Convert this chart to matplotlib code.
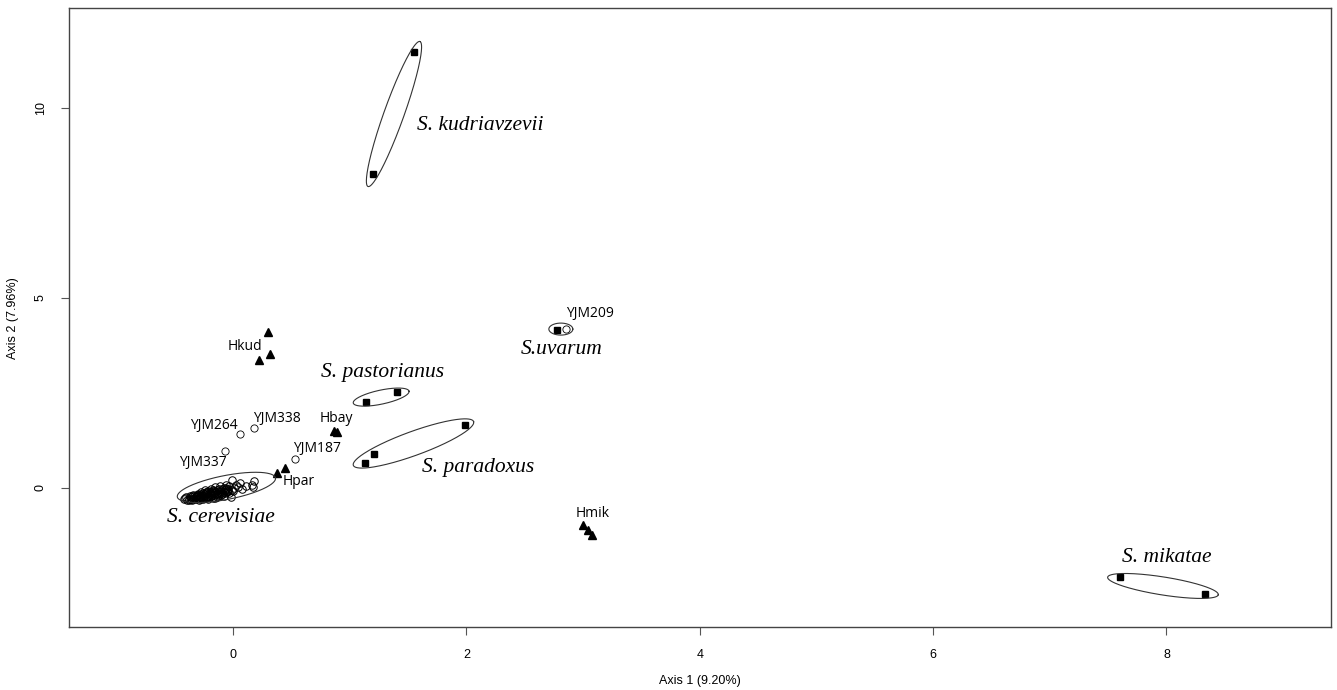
import numpy as np
import matplotlib
matplotlib.use('Agg')
import matplotlib.pyplot as plt

# --- data ---
# S. cerevisiae strains (open circles)
cer_x = [-0.42, -0.40, -0.39, -0.37, -0.36, -0.35, -0.34, -0.33, -0.32, -0.31, -0.30, -0.30,
         -0.29, -0.28, -0.27, -0.27, -0.26, -0.25, -0.25, -0.24, -0.23, -0.23, -0.22, -0.21,
         -0.21, -0.20, -0.19, -0.19, -0.18, -0.17, -0.17, -0.16, -0.15, -0.15, -0.14, -0.13,
         -0.12, -0.12, -0.11, -0.10, -0.09, -0.08, -0.08, -0.07, -0.06, -0.05, -0.04, -0.03,
         -0.02, -0.01, 0.00, 0.01, 0.03, 0.06, 0.08, 0.11, 0.16, 0.18, 0.17, -0.36, -0.33,
         -0.28, -0.26, -0.22, -0.20, -0.18, -0.14, -0.11, -0.06, -0.03,
         -0.41, -0.38, -0.35, -0.32, -0.30, -0.28, -0.26, -0.24, -0.22, -0.20, -0.18, -0.16,
         -0.14, -0.12, -0.10, -0.08, -0.06, -0.04, -0.34, -0.31, -0.29, -0.25, -0.23, -0.19,
         -0.16, -0.13, -0.09, -0.05, -0.38, -0.27, -0.21, -0.15, -0.10, -0.07, -0.01, 0.04]
cer_y = [-0.30, -0.25, -0.31, -0.22, -0.28, -0.33, -0.19, -0.26, -0.30, -0.22, -0.15, -0.27,
         -0.32, -0.20, -0.24, -0.11, -0.29, -0.17, -0.22, -0.06, -0.27, -0.14, -0.20, -0.09,
         -0.25, -0.16, -0.02, -0.21, -0.12, -0.27, -0.05, -0.18, -0.10, 0.02, -0.23, -0.13,
         -0.04, -0.19, 0.05, -0.09, -0.15, 0.00, -0.22, -0.06, 0.08, -0.12, -0.02, 0.04,
         -0.25, 0.21, -0.08, 0.00, 0.08, 0.12, -0.03, 0.05, 0.08, 0.17, 0.02, -0.24, -0.20,
         -0.28, -0.14, -0.12, -0.24, -0.08, -0.06, -0.11, -0.04, -0.14,
         -0.27, -0.29, -0.21, -0.24, -0.19, -0.25, -0.21, -0.16, -0.24, -0.12, -0.19, -0.14,
         -0.17, -0.09, -0.13, -0.11, -0.01, -0.08, -0.30, -0.18, -0.23, -0.27, -0.10, -0.15,
         -0.07, -0.20, -0.04, -0.09, -0.33, -0.17, -0.29, -0.26, -0.18, -0.14, -0.05, 0.02]

# labelled strains (open circles)
strain_names = ['YJM264', 'YJM338', 'YJM337', 'YJM187', 'YJM209']
strain_x = [0.06, 0.18, -0.07, 0.53, 2.85]
strain_y = [1.42, 1.57, 0.96, 0.75, 4.18]
strain_lab_x = [-0.16, 0.38, -0.26, 0.72, 3.06]
strain_lab_y = [1.63, 1.84, 0.66, 1.03, 4.58]

# hybrids (filled triangles)
hyb_x = [0.30, 0.32, 0.22, 0.38, 0.45, 0.87, 0.89, 3.00, 3.04, 3.08]
hyb_y = [4.10, 3.53, 3.37, 0.40, 0.52, 1.50, 1.47, -0.97, -1.10, -1.24]
hyb_names = ['Hkud', 'Hpar', 'Hbay', 'Hmik']
hyb_lab_x = [0.10, 0.56, 0.89, 3.08]
hyb_lab_y = [3.71, 0.18, 1.84, -0.68]

# type strains of other species (filled squares)
sq_x = [1.55, 1.20, 1.14, 1.41, 1.13, 1.21, 1.99, 2.78, 7.60, 8.33]
sq_y = [11.47, 8.26, 2.26, 2.53, 0.66, 0.89, 1.66, 4.16, -2.34, -2.79]

species = ['S. kudriavzevii', 'S. pastorianus', 'S. paradoxus', 'S.uvarum',
           'S. cerevisiae', 'S. mikatae']
species_x = [1.58, 1.28, 1.62, 2.82, -0.10, 8.00]
species_y = [9.55, 3.03, 0.53, 3.63, -0.78, -1.82]
species_ha = ['left', 'center', 'left', 'center', 'center', 'center']

# group ellipses: centre (data), half axes (pixels), angle (deg)
ell_cx = [1.38, 1.27, 1.547, 2.81, -0.056, 7.97]
ell_cy = [9.84, 2.39, 1.17, 4.18, 0.013, -2.58]
ell_a = [77, 28.5, 64, 12, 50, 56]
ell_b = [10, 7, 12, 6, 12, 9]
ell_ang = [70.3, 12, 20, 0, 11, -9]

fig = plt.figure(figsize=(13.37, 6.9), dpi=100)
ax = fig.add_axes([69 / 1337, 63 / 690, (1331 - 69) / 1337, (627 - 8) / 690])
ax.set_xlim(-1.405, 9.41)
ax.set_ylim(-3.66, 12.63)

ax.plot(cer_x, cer_y, 'o', ms=5.4, mfc='none', mec='black', mew=0.7)
ax.plot(strain_x, strain_y, 'o', ms=5.2, mfc='none', mec='black', mew=0.6)
ax.plot(hyb_x, hyb_y, '^', ms=6, color='black')
ax.plot(sq_x, sq_y, 's', ms=4.3, color='black')

# ellipses drawn in display space so pixel sizes hold
t = np.linspace(0, 2 * np.pi, 300)
inv = ax.transData.inverted()
for cx, cy, a, b, ang in zip(ell_cx, ell_cy, ell_a, ell_b, ell_ang):
    px, py = ax.transData.transform((cx, cy))
    th = np.deg2rad(ang)
    ex = px + a * np.cos(t) * np.cos(th) - b * np.sin(t) * np.sin(th)
    ey = py + a * np.cos(t) * np.sin(th) + b * np.sin(t) * np.cos(th)
    pts = inv.transform(np.column_stack([ex, ey]))
    ax.plot(pts[:, 0], pts[:, 1], color='#333333', lw=0.8)

lab_font = dict(family='Open Sans', fontsize=10, ha='center', va='center')
for n, x, y in zip(strain_names, strain_lab_x, strain_lab_y):
    ax.text(x, y, n, **lab_font)
for n, x, y in zip(hyb_names, hyb_lab_x, hyb_lab_y):
    ax.text(x, y, n, **lab_font)
for n, x, y, ha in zip(species, species_x, species_y, species_ha):
    ax.text(x, y, n, family='Liberation Serif', style='italic', fontsize=15.5,
            ha=ha, va='center')

ax.set_xticks([0, 2, 4, 6, 8])
ax.set_yticks([0, 5, 10])
ax.set_yticklabels(['0', '5', '10'], rotation=90, va='center')
ax.tick_params(length=6, width=0.8, color='#555555', pad=10, labelsize=9)
for lab in ax.get_xticklabels() + ax.get_yticklabels():
    lab.set_family('Liberation Sans')
for s in ax.spines.values():
    s.set_color('#444444')
    s.set_linewidth(1)

fig.text(700 / 1337, 1 - 681 / 690, 'Axis 1 (9.20%)', family='Liberation Sans',
         fontsize=9, ha='center', va='center')
fig.text(13 / 1337, 1 - 318 / 690, 'Axis 2 (7.96%)', family='Liberation Sans',
         fontsize=9, ha='center', va='center', rotation=90)

fig.savefig('out.png', dpi=100)
